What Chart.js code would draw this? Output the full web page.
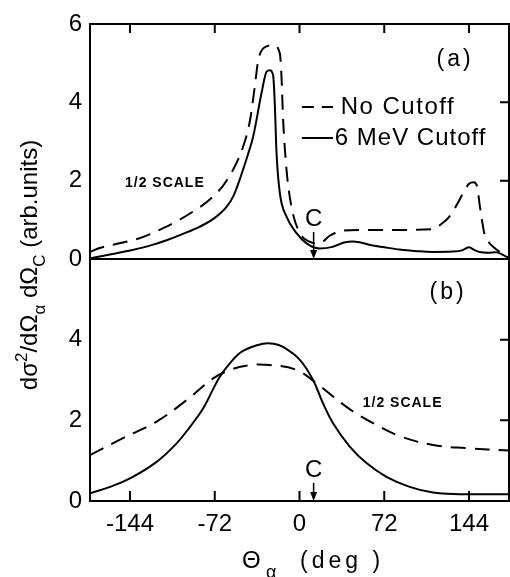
<!DOCTYPE html>
<html>
<head>
<meta charset="utf-8">
<script src="https://cdn.jsdelivr.net/npm/chart.js@4"></script>
<style>
  html, body { margin: 0; padding: 0; background: #fff; }
  #wrap { width: 510px; height: 577px; }
</style>
</head>
<body>
<div id="wrap"><canvas id="grafico" width="510" height="577"></canvas></div>
<script>
// angles (deg) and cross sections
const xTicks = [-144, -72, 0, 72, 144];
const yTicks = [0, 2, 4, 6];

// panel (a)
const thetaNoCutA = [-178, -170, -150, -136, -115, -91, -75, -62, -48, -42, -38, -35, -28, -22.4, -16.7, -15.3, -13.9, -11, -6.8, 0.3, 8, 17, 26, 36, 50, 80, 113, 120, 127, 133, 139, 144, 148, 151, 153, 155, 157, 161, 165, 172, 178];
const noCutA      = [0.18, 0.28, 0.42, 0.53, 0.8, 1.2, 1.55, 2.0, 2.86, 3.55, 4.4, 5.08, 5.43, 5.46, 5.25, 4.65, 3.55, 2.27, 1.33, 0.66, 0.45, 0.4, 0.6, 0.72, 0.74, 0.74, 0.76, 0.88, 1.07, 1.35, 1.68, 1.92, 1.96, 1.84, 1.4, 1.0, 0.66, 0.42, 0.3, 0.14, 0.02];
const thetaCutA   = [-178, -160, -142, -125, -113, -100, -85, -72, -62, -56, -50, -44, -39.4, -32.3, -28, -25.2, -22.4, -21, -19.5, -16.7, -11, -2.5, 6, 17, 28, 38, 45, 52, 60, 72, 85, 100, 113, 130, 138, 144, 148, 153, 160, 167, 172, 178];
const cut6A       = [0.02, 0.12, 0.23, 0.36, 0.48, 0.63, 0.82, 1.05, 1.33, 1.62, 2.1, 2.65, 3.12, 4.23, 4.78, 4.82, 4.69, 3.97, 2.7, 1.68, 1.08, 0.66, 0.4, 0.27, 0.31, 0.42, 0.45, 0.42, 0.36, 0.3, 0.24, 0.2, 0.18, 0.19, 0.22, 0.3, 0.24, 0.18, 0.16, 0.17, 0.12, 0.02];

// panel (b)
const thetaNoCutB = [-178, -150, -121.4, -96, -73.3, -59, -42, -25, -2.5, 14.4, 28.5, 45.5, 62.5, 85, 113.4, 141.8, 178];
const noCutB      = [1.14, 1.56, 1.97, 2.5, 3.04, 3.25, 3.37, 3.37, 3.25, 2.92, 2.59, 2.22, 1.93, 1.61, 1.39, 1.31, 1.25];
const thetaCutB   = [-178, -161, -144, -121.4, -104.4, -93, -81.8, -73.3, -67.7, -59, -48, -31, -22, -14, 0.3, 11.5, 20, 28.5, 42.7, 56.9, 73.9, 93.6, 113.4, 136, 158.7, 178];
const cut6B       = [0.19, 0.35, 0.56, 0.97, 1.43, 1.84, 2.3, 2.78, 3.08, 3.42, 3.72, 3.9, 3.9, 3.82, 3.5, 3.0, 2.42, 1.93, 1.35, 0.94, 0.6, 0.35, 0.21, 0.17, 0.17, 0.17];

const cAngle = 12; // flecha "C"

const fuente = "'Liberation Sans', Arial, sans-serif";

function puntos(xs, ys) {
    return xs.map((x, i) => ({ x: x, y: ys[i] }));
}

// picos agudos (a): monotone; curvas suaves (b): bezier con tensión
function serie(label, xs, ys, eje, discontinua, suave) {
    return {
        label: label,
        data: puntos(xs, ys),
        yAxisID: eje,
        borderColor: '#000',
        borderWidth: 2,
        borderDash: discontinua ? [15, 9] : [],
        pointRadius: 0,
        cubicInterpolationMode: suave ? 'default' : 'monotone',
        tension: 0.4,
        fill: false
    };
}

// texto con sub/superindices: partes = [[texto, 'n'|'sub'|'sup'], ...]
function textoCompuesto(ctx, partes, tam) {
    let ancho = 0;
    partes.forEach(p => {
        ctx.font = (p[1] === 'n' ? tam : Math.round(tam * 0.72)) + 'px ' + fuente;
        ancho += ctx.measureText(p[0]).width;
    });
    return ancho;
}
function dibujaCompuesto(ctx, partes, tam, x, y) {
    partes.forEach(p => {
        const chico = p[1] !== 'n';
        ctx.font = (chico ? Math.round(tam * 0.72) : tam) + 'px ' + fuente;
        let dy = 0;
        if (p[1] === 'sub') dy = tam * 0.32;
        if (p[1] === 'sup') dy = -tam * 0.42;
        ctx.fillText(p[0], x, y + dy);
        x += ctx.measureText(p[0]).width;
    });
}

const decoracion = {
    id: 'decoracion',
    afterDraw(chart) {
        const ctx = chart.ctx;
        const a = chart.chartArea;
        const sx = chart.scales.x, ya = chart.scales.ya, yb = chart.scales.yb;
        ctx.save();
        ctx.strokeStyle = '#000';
        ctx.fillStyle = '#000';
        ctx.lineWidth = 2;
        ctx.setLineDash([]);

        // marco y separación
        ctx.strokeRect(a.left, a.top, a.right - a.left, a.bottom - a.top);
        ctx.beginPath();
        ctx.moveTo(a.left, ya.bottom);
        ctx.lineTo(a.right, ya.bottom);
        ctx.stroke();

        // marcas hacia adentro
        ctx.beginPath();
        xTicks.forEach(v => {
            const px = sx.getPixelForValue(v);
            ctx.moveTo(px, ya.top); ctx.lineTo(px, ya.top + 9);
            ctx.moveTo(px, yb.bottom); ctx.lineTo(px, yb.bottom - 10);
        });
        [2, 4].forEach(v => {
            let py = ya.getPixelForValue(v);
            ctx.moveTo(a.right, py); ctx.lineTo(a.right - 9, py);
            py = yb.getPixelForValue(v);
            ctx.moveTo(a.right, py); ctx.lineTo(a.right - 9, py);
        });
        ctx.stroke();

        // leyenda
        ctx.lineWidth = 2;
        ctx.setLineDash([12, 8]);
        ctx.beginPath();
        ctx.moveTo(sx.getPixelForValue(2), ya.getPixelForValue(3.88));
        ctx.lineTo(sx.getPixelForValue(28.5), ya.getPixelForValue(3.88));
        ctx.stroke();
        ctx.setLineDash([]);
        ctx.beginPath();
        ctx.moveTo(sx.getPixelForValue(2), ya.getPixelForValue(3.09));
        ctx.lineTo(sx.getPixelForValue(28.5), ya.getPixelForValue(3.09));
        ctx.stroke();

        ctx.textBaseline = 'middle';
        ctx.textAlign = 'left';
        ctx.font = '24px ' + fuente;
        ctx.letterSpacing = '1.5px';
        ctx.fillText('No Cutoff', sx.getPixelForValue(35), ya.getPixelForValue(3.86));
        ctx.letterSpacing = '1px';
        ctx.fillText('6 MeV Cutoff', sx.getPixelForValue(30), ya.getPixelForValue(3.09));

        ctx.font = '23px ' + fuente;
        ctx.letterSpacing = '3px';
        ctx.fillText('(a)', sx.getPixelForValue(116.5), ya.getPixelForValue(5.08));
        ctx.fillText('(b)', sx.getPixelForValue(110.5), yb.getPixelForValue(5.16));

        ctx.font = 'bold 14px ' + fuente;
        ctx.letterSpacing = '1px';
        ctx.fillText('1/2 SCALE', sx.getPixelForValue(-148.3), ya.getPixelForValue(1.94));
        ctx.fillText('1/2 SCALE', sx.getPixelForValue(53.7), yb.getPixelForValue(2.42));
        ctx.letterSpacing = '0px';

        // flechas C
        [[ya, 1.02, 0.69], [yb, 0.77, 0.45]].forEach(f => {
            const esc = f[0];
            const px = sx.getPixelForValue(cAngle);
            ctx.font = '24px ' + fuente;
            ctx.textAlign = 'center';
            ctx.fillText('C', px, esc.getPixelForValue(f[1]));
            const y0 = esc.getPixelForValue(f[2]);
            const y1 = esc.getPixelForValue(0);
            ctx.lineWidth = 1.5;
            ctx.beginPath();
            ctx.moveTo(px, y0); ctx.lineTo(px, y1 - 4);
            ctx.stroke();
            ctx.beginPath();
            ctx.moveTo(px - 3.5, y1 - 9); ctx.lineTo(px + 3.5, y1 - 9); ctx.lineTo(px, y1);
            ctx.closePath();
            ctx.fill();
        });

        // título eje y (rotado)
        ctx.textAlign = 'left';
        ctx.textBaseline = 'alphabetic';
        const tituloY = [['dσ', 'n'], ['2', 'sup'], ['/dΩ', 'n'], ['α', 'sub'], [' dΩ', 'n'], ['C', 'sub'], [' (arb.units)', 'n']];
        const tamY = 24;
        const anchoY = textoCompuesto(ctx, tituloY, tamY);
        ctx.save();
        ctx.translate(37, 265);
        ctx.rotate(-Math.PI / 2);
        dibujaCompuesto(ctx, tituloY, tamY, -anchoY / 2, 0);
        ctx.restore();

        // título eje x: Θα (deg )
        ctx.font = '24px ' + fuente;
        ctx.fillText('Θ', 242, 568);
        ctx.font = '18px ' + fuente;
        ctx.fillText('α', 266, 578);
        ctx.font = '23px ' + fuente;
        ctx.letterSpacing = '4px';
        ctx.fillText('(deg )', 300, 568);
        ctx.letterSpacing = '0px';

        ctx.restore();
    }
};

const ejeY = (peso, ocultarSeis) => ({
    type: 'linear',
    position: 'left',
    stack: 'paneles',
    stackWeight: peso,
    min: 0,
    max: 6,
    afterBuildTicks: s => { s.ticks = yTicks.map(v => ({ value: v })); },
    afterFit: s => { s.width = 90; },
    grid: { display: false, drawTicks: false },
    border: { display: true, color: '#000', width: 2 },
    ticks: {
        color: '#000',
        font: { family: fuente, size: 24 },
        padding: 8,
        callback: v => (ocultarSeis && v === 6) ? '' : String(v)
    }
});

new Chart(document.getElementById('grafico'), {
    type: 'line',
    data: {
        datasets: [
            serie('No Cutoff (a)', thetaNoCutA, noCutA, 'ya', true, false),
            serie('6 MeV Cutoff (a)', thetaCutA, cut6A, 'ya', false, false),
            serie('No Cutoff (b)', thetaNoCutB, noCutB, 'yb', true, true),
            serie('6 MeV Cutoff (b)', thetaCutB, cut6B, 'yb', false, true)
        ]
    },
    options: {
        responsive: false,
        animation: false,
        layout: { padding: { top: 24, right: 1, left: 0, bottom: 0 } },
        plugins: { legend: { display: false }, tooltip: { enabled: false } },
        scales: {
            x: {
                type: 'linear',
                min: -178,
                max: 178,
                afterBuildTicks: s => { s.ticks = xTicks.map(v => ({ value: v })); },
                afterFit: s => { s.height = 76; },
                grid: { display: false, drawTicks: false },
                border: { display: true, color: '#000', width: 2 },
                ticks: {
                    color: '#000',
                    font: { family: fuente, size: 24 },
                    padding: 9,
                    maxRotation: 0,
                    autoSkip: false
                }
            },
            // en una pila Chart.js coloca el primero abajo
            yb: ejeY(242, true),
            ya: ejeY(235, false)
        }
    },
    plugins: [decoracion]
});
</script>
</body>
</html>
